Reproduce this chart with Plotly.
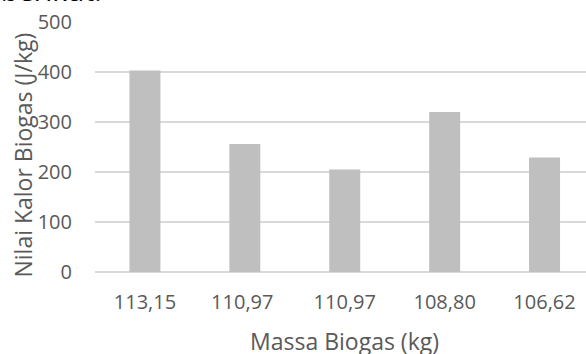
import plotly.graph_objects as go

categories = ["113,15", "110,97 ", "110,97", "108,80", "106,62"]
values = [403, 256, 205, 320, 229]
y_ticks = [0, 100, 200, 300, 400, 500]

W, H = 586, 354
L, T = 94.5, 21.5
plot_w = W - L
plot_h = 272.5 - T

fig = go.Figure()
fig.add_trace(go.Bar(
    x=list(range(len(categories))), y=values,
    marker=dict(color="#BFBFBF", line=dict(width=0)),
    width=0.31,
))

fig.update_layout(
    template="none",
    width=W, height=H,
    margin=dict(l=L, r=0, t=T, b=H - 272.5, pad=0, autoexpand=False),
    paper_bgcolor="white", plot_bgcolor="white",
    showlegend=False,
    font=dict(family="Open Sans", color="#595959"),
    xaxis=dict(
        automargin=False,
        range=[-0.5, -0.5 + plot_w / 100.0],
        tickmode="array", tickvals=list(range(len(categories))), ticktext=categories,
        showgrid=False, zeroline=False, showline=False,
        tickfont=dict(size=20, color="#595959"),
        ticks="", ticklabelstandoff=16,
    ),
    yaxis=dict(
        automargin=False,
        range=[0, 500], tickmode="array", tickvals=y_ticks,
        showgrid=True, gridcolor="#D9D9D9", gridwidth=1.5,
        zeroline=True, zerolinecolor="#D9D9D9", zerolinewidth=1.5,
        showline=False,
        tickfont=dict(size=20, color="#595959"),
        ticks="", ticklabelstandoff=22,
    ),
    annotations=[
        dict(text="Nilai Kalor Biogas (J/kg)", textangle=-90,
             xref="paper", yref="paper",
             x=(22.5 - L) / plot_w, y=(272.5 - 155.5) / plot_h,
             xanchor="center", yanchor="middle", showarrow=False,
             font=dict(size=23, color="#595959", family="Open Sans")),
        dict(text="Massa Biogas (kg)",
             xref="paper", yref="paper",
             x=(344.5 - L) / plot_w, y=(272.5 - 342) / plot_h,
             xanchor="center", yanchor="middle", showarrow=False,
             font=dict(size=23, color="#595959", family="Open Sans")),
        dict(text="berikut.",
             xref="paper", yref="paper",
             x=(-2 - L) / plot_w, y=1 + (T - 10) / plot_h,
             xanchor="left", yanchor="bottom", showarrow=False,
             font=dict(size=28, color="#000000", family="Open Sans")),
    ],
)

fig.write_html("out.html", config={"displayModeBar": False},
               post_script="document.body.style.margin='0';")
